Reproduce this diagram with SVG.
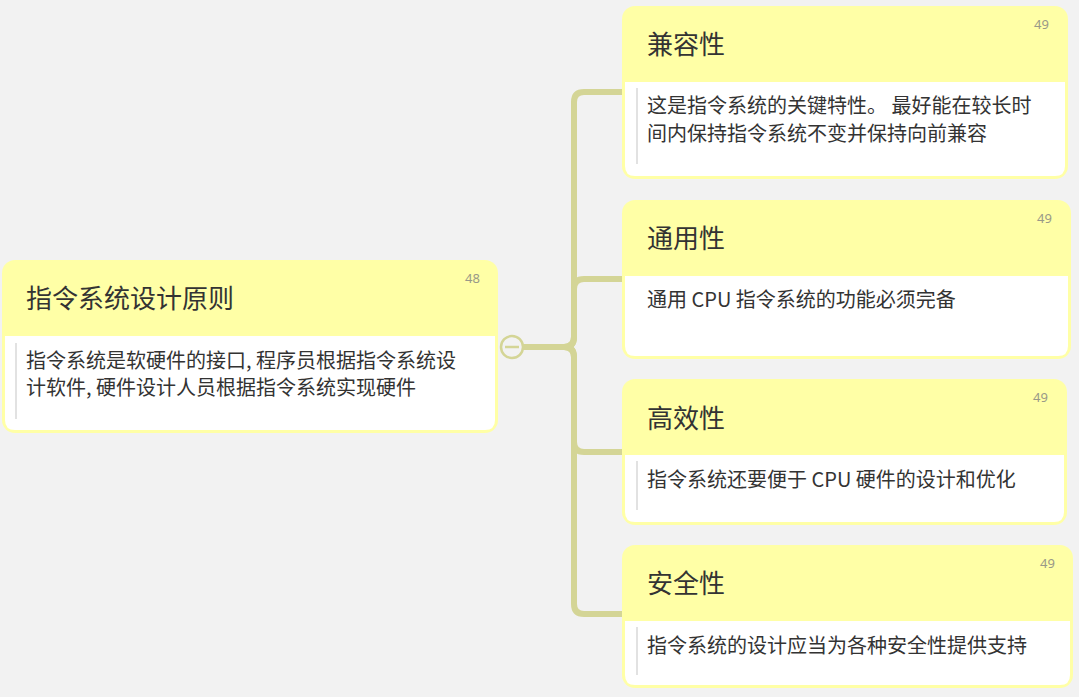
<svg xmlns="http://www.w3.org/2000/svg" width="1079" height="697" viewBox="0 0 1079 697">
<style>
.card{fill:#ffffa6;}
.body{fill:#ffffff;}
.bar{stroke:#e2e2e2;stroke-width:2;}
.title{font-family:"Noto Sans CJK SC","Noto Sans",sans-serif;font-size:26px;fill:#333333;}
.txt{font-family:"Noto Sans CJK SC","Noto Sans",sans-serif;font-size:20px;fill:#333333;}
.num{font-family:"Noto Sans","Liberation Sans",sans-serif;font-size:13px;fill:#999988;}
.conn{fill:none;stroke:#d4d596;stroke-width:6;stroke-linecap:round;stroke-linejoin:round;}
</style>
<rect width="1079" height="697" fill="#f2f2f2"/>
<g id="connectors">
<path class="conn" d="M523 347 H564 Q574 347 574 337 V102 Q574 92 584 92 H622"/>
<path class="conn" d="M523 347 H564 Q574 347 574 337 V289 Q574 279 584 279 H622"/>
<path class="conn" d="M523 347 H564 Q574 347 574 357 V442 Q574 452 584 452 H622"/>
<path class="conn" d="M523 347 H564 Q574 347 574 357 V604 Q574 614 584 614 H622"/>
<circle cx="512" cy="347" r="11" fill="#f2f2f2" stroke="#d4d596" stroke-width="2.5"/>
<line x1="505" y1="347" x2="519" y2="347" stroke="#d4d596" stroke-width="2.5"/>
</g>
<g id="root">
<rect class="card" x="2" y="260" width="496" height="173" rx="13"/>
<path class="body" d="M5 336 H495 V420 Q495 430 485 430 H15 Q5 430 5 420 Z"/>
<line class="bar" x1="16" y1="343" x2="16" y2="419"/>
<text class="num" x="465" y="283">48</text>
<text class="title" x="26" y="308">指令系统设计原则</text>
<text class="txt" x="26" y="368">指令系统是软硬件的接口, 程序员根据指令系统设</text>
<text class="txt" x="26" y="395">计软件, 硬件设计人员根据指令系统实现硬件</text>
</g>
<g id="n1">
<rect class="card" x="622" y="6" width="446" height="173" rx="13"/>
<path class="body" d="M625 82 H1065 V166 Q1065 176 1055 176 H635 Q625 176 625 166 Z"/>
<line class="bar" x1="637" y1="88" x2="637" y2="164"/>
<text class="num" x="1034" y="29">49</text>
<text class="title" x="647" y="54">兼容性</text>
<text class="txt" x="647" y="113">这是指令系统的关键特性。 最好能在较长时</text>
<text class="txt" x="647" y="141">间内保持指令系统不变并保持向前兼容</text>
</g>
<g id="n2">
<rect class="card" x="622" y="200" width="449" height="159" rx="13"/>
<path class="body" d="M625 276 H1068 V346 Q1068 356 1058 356 H635 Q625 356 625 346 Z"/>
<text class="num" x="1037" y="223">49</text>
<text class="title" x="647" y="248">通用性</text>
<text class="txt" x="647" y="307">通用 CPU 指令系统的功能必须完备</text>
</g>
<g id="n3">
<rect class="card" x="622" y="379" width="445" height="146" rx="13"/>
<path class="body" d="M625 455 H1064 V512 Q1064 522 1054 522 H635 Q625 522 625 512 Z"/>
<line class="bar" x1="637" y1="461" x2="637" y2="510"/>
<text class="num" x="1033" y="402">49</text>
<text class="title" x="647" y="428">高效性</text>
<text class="txt" x="647" y="487">指令系统还要便于 CPU 硬件的设计和优化</text>
</g>
<g id="n4">
<rect class="card" x="622" y="545" width="451" height="143" rx="13"/>
<path class="body" d="M625 621 H1070 V675 Q1070 685 1060 685 H635 Q625 685 625 675 Z"/>
<line class="bar" x1="637" y1="627" x2="637" y2="675"/>
<text class="num" x="1040" y="568">49</text>
<text class="title" x="647" y="593">安全性</text>
<text class="txt" x="647" y="653">指令系统的设计应当为各种安全性提供支持</text>
</g>
</svg>
